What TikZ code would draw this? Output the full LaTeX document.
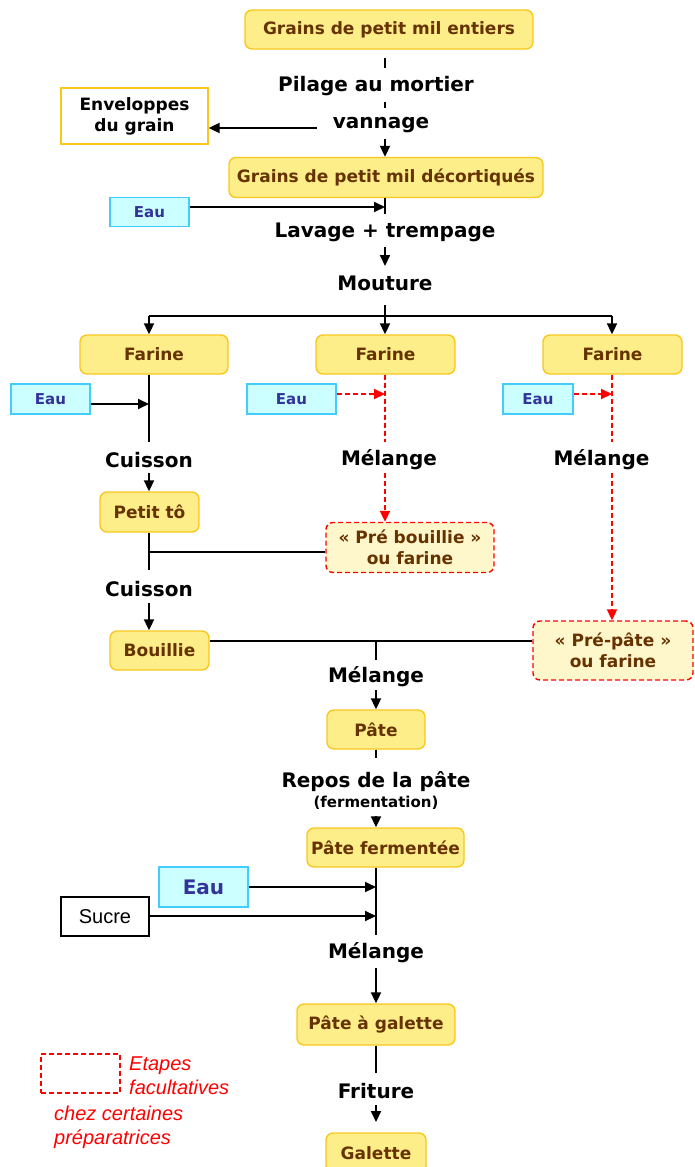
\documentclass[tikz,border=0pt]{standalone}
\usepackage{fontspec}
\setmainfont{DejaVu Sans}
\newfontfamily\legendfont{Liberation Sans}
\usetikzlibrary{arrows.meta}

\definecolor{boxfill}{HTML}{FDEE8A}
\definecolor{boxedge}{HTML}{F8C81E}
\definecolor{boxtext}{HTML}{663300}
\definecolor{waterfill}{HTML}{CCFFFF}
\definecolor{wateredge}{HTML}{44CCFF}
\definecolor{watertext}{HTML}{333399}
\definecolor{optfill}{HTML}{FFF7CC}

\begin{document}
\begin{tikzpicture}[x=1pt,y=-1pt,
  wh/.style 2 args={minimum width=#1pt, minimum height=#2pt},
  conn/.style={line width=2pt, black},
  flowarrow/.style={conn, -{Triangle[length=11pt,width=10pt]}},
  optconn/.style={line width=2pt, red, dash pattern=on 5pt off 3pt},
  optarrow/.style={optconn, -{Triangle[length=11pt,width=10pt]}},
  product/.style={draw=boxedge, fill=boxfill, line width=1.4pt, rounded corners=7pt,
    text=boxtext, font=\bfseries\fontsize{17}{21}\selectfont, align=center, inner sep=0pt},
  optional/.style={product, fill=optfill, draw=red, dash pattern=on 5pt off 3pt},
  water/.style={draw=wateredge, fill=waterfill, line width=1.4pt, text=watertext,
    font=\bfseries\fontsize{15}{18}\selectfont, inner sep=0pt},
  stage/.style={font=\bfseries\fontsize{20}{24}\selectfont, inner sep=0pt, yshift=-2pt},
  legendtext/.style={text=red, font=\legendfont\itshape\fontsize{20}{24}\selectfont,
    align=left, inner sep=0pt, anchor=west}
]
\useasboundingbox (0,0) rectangle (694,1167);

% ---------- decortication ----------
\node[product, wh={288}{39}] (g1) at (389,29.5) {Grains de petit mil entiers};
\node[stage] (pilage) at (376,84) {Pilage au mortier};
\node[stage] (vannage) at (381,123) {vannage};
\node[draw=boxedge, line width=1.4pt, fill=white, font=\bfseries\fontsize{17}{21}\selectfont,
  align=center, inner sep=0pt, wh={147}{56}] (env) at (134.5,116) {Enveloppes\\du grain};
\node[product, wh={314}{40}] (g2) at (386,177.5) {Grains de petit mil décortiqués};

\coordinate (a1) at (385,58);  \coordinate (a2) at (385,68);
\coordinate (a3) at (385,102); \coordinate (a4) at (385,108);
\coordinate (a5) at (385,139);
\draw[conn] (a1) -- (a2);
\draw[conn] (a3) -- (a4);
\draw[flowarrow] (a5) -- (a5 |- g2.north);
\coordinate (e1) at (317,128);
\draw[flowarrow] (e1) -- (env.east |- e1);

% ---------- washing and milling ----------
\node[water, wh={79}{29}] (eau1) at (149.5,212) {Eau};
\node[stage] (lavage) at (385,230) {Lavage + trempage};
\node[stage] (mouture) at (385,281) {Mouture};

\coordinate (b0) at (385,207); \coordinate (b1) at (385,214);
\draw[conn] (b1 |- g2.south) -- (b1);
\draw[flowarrow] (eau1.east |- b0) -- (b0);
\coordinate (c1) at (385,247); \coordinate (c2) at (385,266);
\draw[flowarrow] (c1) -- (c2);

\node[product, wh={148}{39}] (far1) at (154,354.5) {Farine};
\node[product, wh={139}{39}] (far2) at (385.5,354.5) {Farine};
\node[product, wh={139}{39}] (far3) at (612.5,354.5) {Farine};

\coordinate (m1) at (385,305); \coordinate (m2) at (385,316);
\coordinate (ml) at (149,316); \coordinate (mr) at (612,316);
\draw[conn] (m1) -- (m2);
\draw[conn] (ml) -- (mr);
\draw[flowarrow] (ml) -- (ml |- far1.north);
\draw[flowarrow] (m2) -- (m2 |- far2.north);
\draw[flowarrow] (mr) -- (mr |- far3.north);

% ---------- left branch: cooked porridge ----------
\node[water, wh={79}{30}] (eau2) at (50.5,399) {Eau};
\node[stage] (cuisson1) at (149,458) {Cuisson};
\node[product, wh={99}{40}] (petitto) at (149.5,512) {Petit tô};
\node[stage] (cuisson2) at (149,587) {Cuisson};
\node[product, wh={99}{39}] (bouillie) at (159.5,650.5) {Bouillie};

\coordinate (l0) at (149,404); \coordinate (l1) at (149,442);
\draw[conn] (l1 |- far1.south) -- (l1);
\draw[flowarrow] (eau2.east |- l0) -- (l0);
\coordinate (l2) at (149,473);
\draw[flowarrow] (l2) -- (l2 |- petitto.north);
\coordinate (l3) at (149,570); \coordinate (l4) at (149,552);
\draw[conn] (l3 |- petitto.south) -- (l3);
\coordinate (l5) at (149,603);
\draw[flowarrow] (l5) -- (l5 |- bouillie.north);

% ---------- middle branch (optional) ----------
\node[water, wh={89}{30}] (eau3) at (291.5,399) {Eau};
\node[stage] (melange2) at (389,458) {Mélange};
\node[optional, wh={168}{50}] (prebouillie) at (410,547.5) {« Pré bouillie »\\ou farine};
\coordinate (k0) at (385,394); \coordinate (k1) at (385,442); \coordinate (k2) at (385,473);
\draw[optconn] (k1 |- far2.south) -- (k1);
\draw[optarrow] (eau3.east |- k0) -- (k0);
\draw[optarrow] (k2) -- (k2 |- prebouillie.north);
\draw[conn] (l4) -- (prebouillie.west |- l4);

% ---------- right branch (optional) ----------
\node[water, wh={70}{30}] (eau4) at (538,399) {Eau};
\node[stage] (melange3) at (601.5,458) {Mélange};
\node[optional, wh={160}{59}] (prepate) at (613,650.5) {« Pré-pâte »\\ou farine};
\coordinate (r0) at (612,394); \coordinate (r1) at (612,442); \coordinate (r2) at (612,473);
\draw[optconn] (r1 |- far3.south) -- (r1);
\draw[optarrow] (eau4.east |- r0) -- (r0);
\draw[optarrow] (r2) -- (r2 |- prepate.north);

% ---------- dough ----------
\node[stage] (melange1) at (376,675) {Mélange};
\node[product, wh={98}{39}] (pate) at (376,729.5) {Pâte};
\coordinate (d0) at (376,641); \coordinate (d1) at (376,660); \coordinate (d2) at (376,690);
\draw[conn] (bouillie.east |- d0) -- (prepate.west |- d0);
\draw[conn] (d0) -- (d1);
\draw[flowarrow] (d2) -- (d2 |- pate.north);

\node[stage] (repos) at (376,780) {Repos de la pâte};
\node[font=\bfseries\fontsize{15}{18}\selectfont, inner sep=0pt] (ferm) at (376,803) {(fermentation)};
\node[product, wh={157}{39}] (patef) at (385.5,847.5) {Pâte fermentée};
\coordinate (f1) at (376,758); \coordinate (f2) at (376,816);
\draw[conn] (f1 |- pate.south) -- (f1);
\draw[flowarrow] (f2) -- (f2 |- patef.north);

% ---------- sweetening ----------
\node[water, wh={89}{40}, font=\bfseries\fontsize{20}{24}\selectfont] (eau5) at (203.5,887) {Eau};
\node[draw=black, line width=1.4pt, fill=white, inner sep=0pt, wh={88}{39},
  font=\legendfont\fontsize{20}{24}\selectfont] (sucre) at (105,916.5) {Sucre};
\node[stage] (melange4) at (376,951) {Mélange};
\node[product, wh={158}{41}] (pateg) at (376,1024.5) {Pâte à galette};
\coordinate (s0) at (376,887); \coordinate (s1) at (376,916); \coordinate (s2) at (376,935);
\coordinate (s3) at (376,968);
\draw[conn] (s2 |- patef.south) -- (s2);
\draw[flowarrow] (eau5.east |- s0) -- (s0);
\draw[flowarrow] (sucre.east |- s1) -- (s1);
\draw[flowarrow] (s3) -- (s3 |- pateg.north);

% ---------- frying ----------
\node[stage] (friture) at (376,1089) {Friture};
\node[product, wh={100}{40}] (galette) at (376,1153) {Galette};
\coordinate (t1) at (376,1073); \coordinate (t2) at (376,1105); \coordinate (t3) at (376,1122);
\draw[conn] (t1 |- pateg.south) -- (t1);
\draw[flowarrow] (t2) -- (t3);

% ---------- legend ----------
\node[draw=red, line width=1.4pt, dash pattern=on 5pt off 3pt, wh={79}{39}, inner sep=0pt]
  (legendbox) at (80.5,1073.5) {};
\node[legendtext] (legend1) at (129,1076) {Etapes\\facultatives};
\node[legendtext] (legend2) at (54,1127) {chez certaines\\préparatrices};
\end{tikzpicture}
\end{document}
